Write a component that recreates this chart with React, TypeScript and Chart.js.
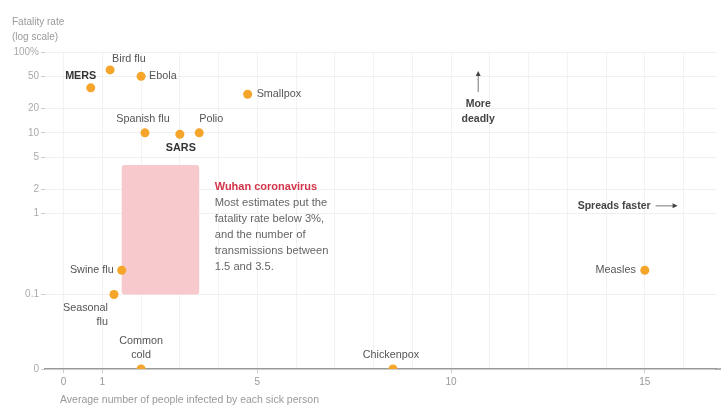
import React, { useEffect, useRef } from 'react';
import { Chart, registerables } from 'chart.js';

Chart.register(...registerables);

// ---- data ----
const diseases = ['MERS', 'Bird flu', 'Ebola', 'Smallpox', 'Spanish flu', 'SARS', 'Polio', 'Swine flu', 'Seasonal flu', 'Common cold', 'Chickenpox', 'Measles'];
const transmissions = [0.7, 1.2, 2.0, 4.75, 2.1, 3.0, 3.5, 1.5, 1.3, 2.0, 8.5, 15];
const fatalityRates = [36, 60, 50, 30, 10, 9.6, 10, 0.2, 0.1, 0, 0, 0.2];
const yTickValues = [0, 0.1, 1, 2, 5, 10, 20, 50, 100];
const xTickLabels = [0, 1, 5, 10, 15];
const wuhanTransmissions = [1.5, 3.5];
const wuhanFatality = [0.1, 4];
const wuhanTitle = 'Wuhan coronavirus';
const wuhanNote = ['Most estimates put the', 'fatality rate below 3%,', 'and the number of', 'transmissions between', '1.5 and 3.5.'];

// position on the log axis used to draw "0"
const Y_ZERO = 0.012;
const X_MIN = -0.48;
const X_MAX = 16.85;

// ---- label styling ----
type Placement = { lines: string[]; align: CanvasTextAlign; dx: number; dy: number; bold?: boolean };
const labelPlacement: Record<string, Placement> = {
  'MERS': { lines: ['MERS'], align: 'center', dx: -10, dy: -12, bold: true },
  'Bird flu': { lines: ['Bird flu'], align: 'left', dx: 2, dy: -11 },
  'Ebola': { lines: ['Ebola'], align: 'left', dx: 8, dy: 0 },
  'Smallpox': { lines: ['Smallpox'], align: 'left', dx: 9, dy: 0 },
  'Spanish flu': { lines: ['Spanish flu'], align: 'center', dx: -2, dy: -14 },
  'SARS': { lines: ['SARS'], align: 'center', dx: 1, dy: 14, bold: true },
  'Polio': { lines: ['Polio'], align: 'left', dx: 0, dy: -14 },
  'Swine flu': { lines: ['Swine flu'], align: 'right', dx: -8, dy: 0 },
  'Seasonal flu': { lines: ['Seasonal', 'flu'], align: 'right', dx: -6, dy: 13 },
  'Common cold': { lines: ['Common', 'cold'], align: 'center', dx: 0, dy: -28 },
  'Chickenpox': { lines: ['Chickenpox'], align: 'center', dx: -2, dy: -14 },
  'Measles': { lines: ['Measles'], align: 'right', dx: -9, dy: 0 },
};

const FONT = '"Liberation Sans", Arial, sans-serif';
const POINT_COLOR = '#f4a52a';

function toPlotY(v: number) {
  return v === 0 ? Y_ZERO : v;
}

const overlayPlugin = {
  id: 'overlay',
  beforeDatasetsDraw(chart: any) {
    const { ctx, scales, chartArea, width } = chart;
    const x = scales.x;
    const y = scales.y;
    // extend baseline to the right edge of the canvas
    ctx.save();
    ctx.strokeStyle = '#999';
    ctx.lineWidth = 1.5;
    ctx.beginPath();
    ctx.moveTo(chartArea.right - 1, chartArea.bottom);
    ctx.lineTo(width, chartArea.bottom);
    ctx.stroke();
    const x0 = x.getPixelForValue(wuhanTransmissions[0]);
    const x1 = x.getPixelForValue(wuhanTransmissions[1]);
    const y0 = y.getPixelForValue(wuhanFatality[1]);
    const y1 = y.getPixelForValue(wuhanFatality[0]);
    ctx.fillStyle = '#f7c9cd';
    ctx.beginPath();
    if (ctx.roundRect) ctx.roundRect(x0, y0, x1 - x0, y1 - y0, 3);
    else ctx.rect(x0, y0, x1 - x0, y1 - y0);
    ctx.fill();
    ctx.restore();
  },
  afterDatasetsDraw(chart: any) {
    const { ctx, scales } = chart;
    const x = scales.x;
    const y = scales.y;
    ctx.save();
    ctx.textBaseline = 'middle';

    // point labels
    diseases.forEach((name, i) => {
      const p = labelPlacement[name];
      const px = x.getPixelForValue(transmissions[i]);
      const py = y.getPixelForValue(toPlotY(fatalityRates[i]));
      ctx.font = `${p.bold ? 'bold ' : ''}10.8px ${FONT}`;
      ctx.fillStyle = p.bold ? '#333' : '#555';
      ctx.textAlign = p.align;
      p.lines.forEach((line, k) => {
        ctx.fillText(line, px + p.dx, py + p.dy + k * 14);
      });
    });

    // Wuhan note
    const wx = x.getPixelForValue(3.9);
    const wy = y.getPixelForValue(2.15);
    ctx.textAlign = 'left';
    ctx.font = `bold 11px ${FONT}`;
    ctx.fillStyle = '#d3344a';
    ctx.fillText(wuhanTitle, wx, wy);
    ctx.font = `11.2px ${FONT}`;
    ctx.fillStyle = '#666';
    wuhanNote.forEach((line, k) => ctx.fillText(line, wx, wy + 16 * (k + 1)));

    // More deadly
    const mx = x.getPixelForValue(10.7);
    const my = y.getPixelForValue(22.8);
    ctx.font = `bold 10.5px ${FONT}`;
    ctx.fillStyle = '#444';
    ctx.textAlign = 'center';
    ctx.fillText('More', mx, my);
    ctx.fillText('deadly', mx, my + 15);
    ctx.strokeStyle = '#777';
    ctx.lineWidth = 1;
    ctx.beginPath();
    ctx.moveTo(mx, my - 12);
    ctx.lineTo(mx, my - 30);
    ctx.stroke();
    ctx.fillStyle = '#444';
    ctx.beginPath();
    ctx.moveTo(mx, my - 33);
    ctx.lineTo(mx - 2.5, my - 28);
    ctx.lineTo(mx + 2.5, my - 28);
    ctx.closePath();
    ctx.fill();

    // Spreads faster
    const sx = x.getPixelForValue(15.15);
    const sy = y.getPixelForValue(1.25);
    ctx.font = `bold 10.5px ${FONT}`;
    ctx.fillStyle = '#444';
    ctx.textAlign = 'right';
    ctx.fillText('Spreads faster', sx, sy);
    ctx.strokeStyle = '#777';
    ctx.beginPath();
    ctx.moveTo(sx + 5, sy);
    ctx.lineTo(sx + 23, sy);
    ctx.stroke();
    ctx.beginPath();
    ctx.moveTo(sx + 27, sy);
    ctx.lineTo(sx + 22, sy - 2.5);
    ctx.lineTo(sx + 22, sy + 2.5);
    ctx.closePath();
    ctx.fill();

    // axis titles
    ctx.font = `10px ${FONT}`;
    ctx.fillStyle = '#999';
    ctx.textAlign = 'left';
    ctx.fillText('Fatality rate', 12, 22);
    ctx.fillText('(log scale)', 12, 37);
    ctx.font = `10.5px ${FONT}`;
    ctx.fillText('Average number of people infected by each sick person', 60, 400);
    ctx.restore();
  },
};

export default function App() {
  const canvasRef = useRef<HTMLCanvasElement | null>(null);

  useEffect(() => {
    if (!canvasRef.current) return;
    const points = diseases.map((_, i) => ({ x: transmissions[i], y: toPlotY(fatalityRates[i]) }));
    const chart = new Chart(canvasRef.current, {
      type: 'scatter',
      data: {
        datasets: [
          {
            label: 'Diseases',
            data: points,
            backgroundColor: POINT_COLOR,
            borderWidth: 0,
            pointRadius: 4.5,
          },
        ],
      },
      options: {
        animation: false,
        responsive: false,
        events: [],
        layout: { padding: { top: 52, left: 0, right: 0, bottom: 0 } },
        plugins: {
          legend: { display: false },
          tooltip: { enabled: false },
          title: { display: false },
        },
        scales: {
          x: {
            type: 'linear',
            min: X_MIN,
            max: X_MAX,
            afterBuildTicks: (scale: any) => {
              const t = [];
              for (let v = 0; v <= Math.floor(X_MAX); v++) t.push({ value: v });
              scale.ticks = t;
            },
            afterFit: (scale: any) => {
              scale.height = 37;
            },
            ticks: {
              autoSkip: false,
              maxRotation: 0,
              padding: 3,
              color: '#999',
              font: { family: FONT, size: 10 },
              callback: (v: any) => (xTickLabels.includes(Number(v)) ? String(v) : ''),
            },
            grid: {
              color: '#f2f2f2',
              lineWidth: 1,
              drawTicks: true,
              tickLength: 4,
              tickColor: (c: any) => (c.tick && xTickLabels.includes(c.tick.value) ? '#ccc' : 'rgba(0,0,0,0)'),
            },
            border: { display: true, color: '#999', width: 1.5 },
          },
          y: {
            type: 'logarithmic',
            min: Y_ZERO,
            max: 100,
            afterBuildTicks: (scale: any) => {
              scale.ticks = yTickValues.map((v) => ({ value: toPlotY(v) }));
            },
            afterFit: (scale: any) => {
              scale.width = 45;
            },
            ticks: {
              autoSkip: false,
              padding: 2,
              color: '#aaa',
              font: { family: FONT, size: 10 },
              callback: (v: any) => {
                const n = Number(v);
                if (n === Y_ZERO) return '0';
                if (n === 100) return '100%';
                return String(n);
              },
            },
            grid: {
              color: (c: any) => (c.tick && c.tick.value === Y_ZERO ? 'rgba(0,0,0,0)' : '#f0f0f0'),
              lineWidth: 1,
              drawTicks: true,
              tickLength: 4,
              tickColor: '#ccc',
            },
            border: { display: false },
          },
        },
      },
      plugins: [overlayPlugin],
    } as any);
    return () => chart.destroy();
  }, []);

  return (
    <div style={{ position: 'absolute', left: 0, top: 0, width: 721, height: 406, background: '#fff' }}>
      <canvas ref={canvasRef} width={721} height={406} />
    </div>
  );
}
